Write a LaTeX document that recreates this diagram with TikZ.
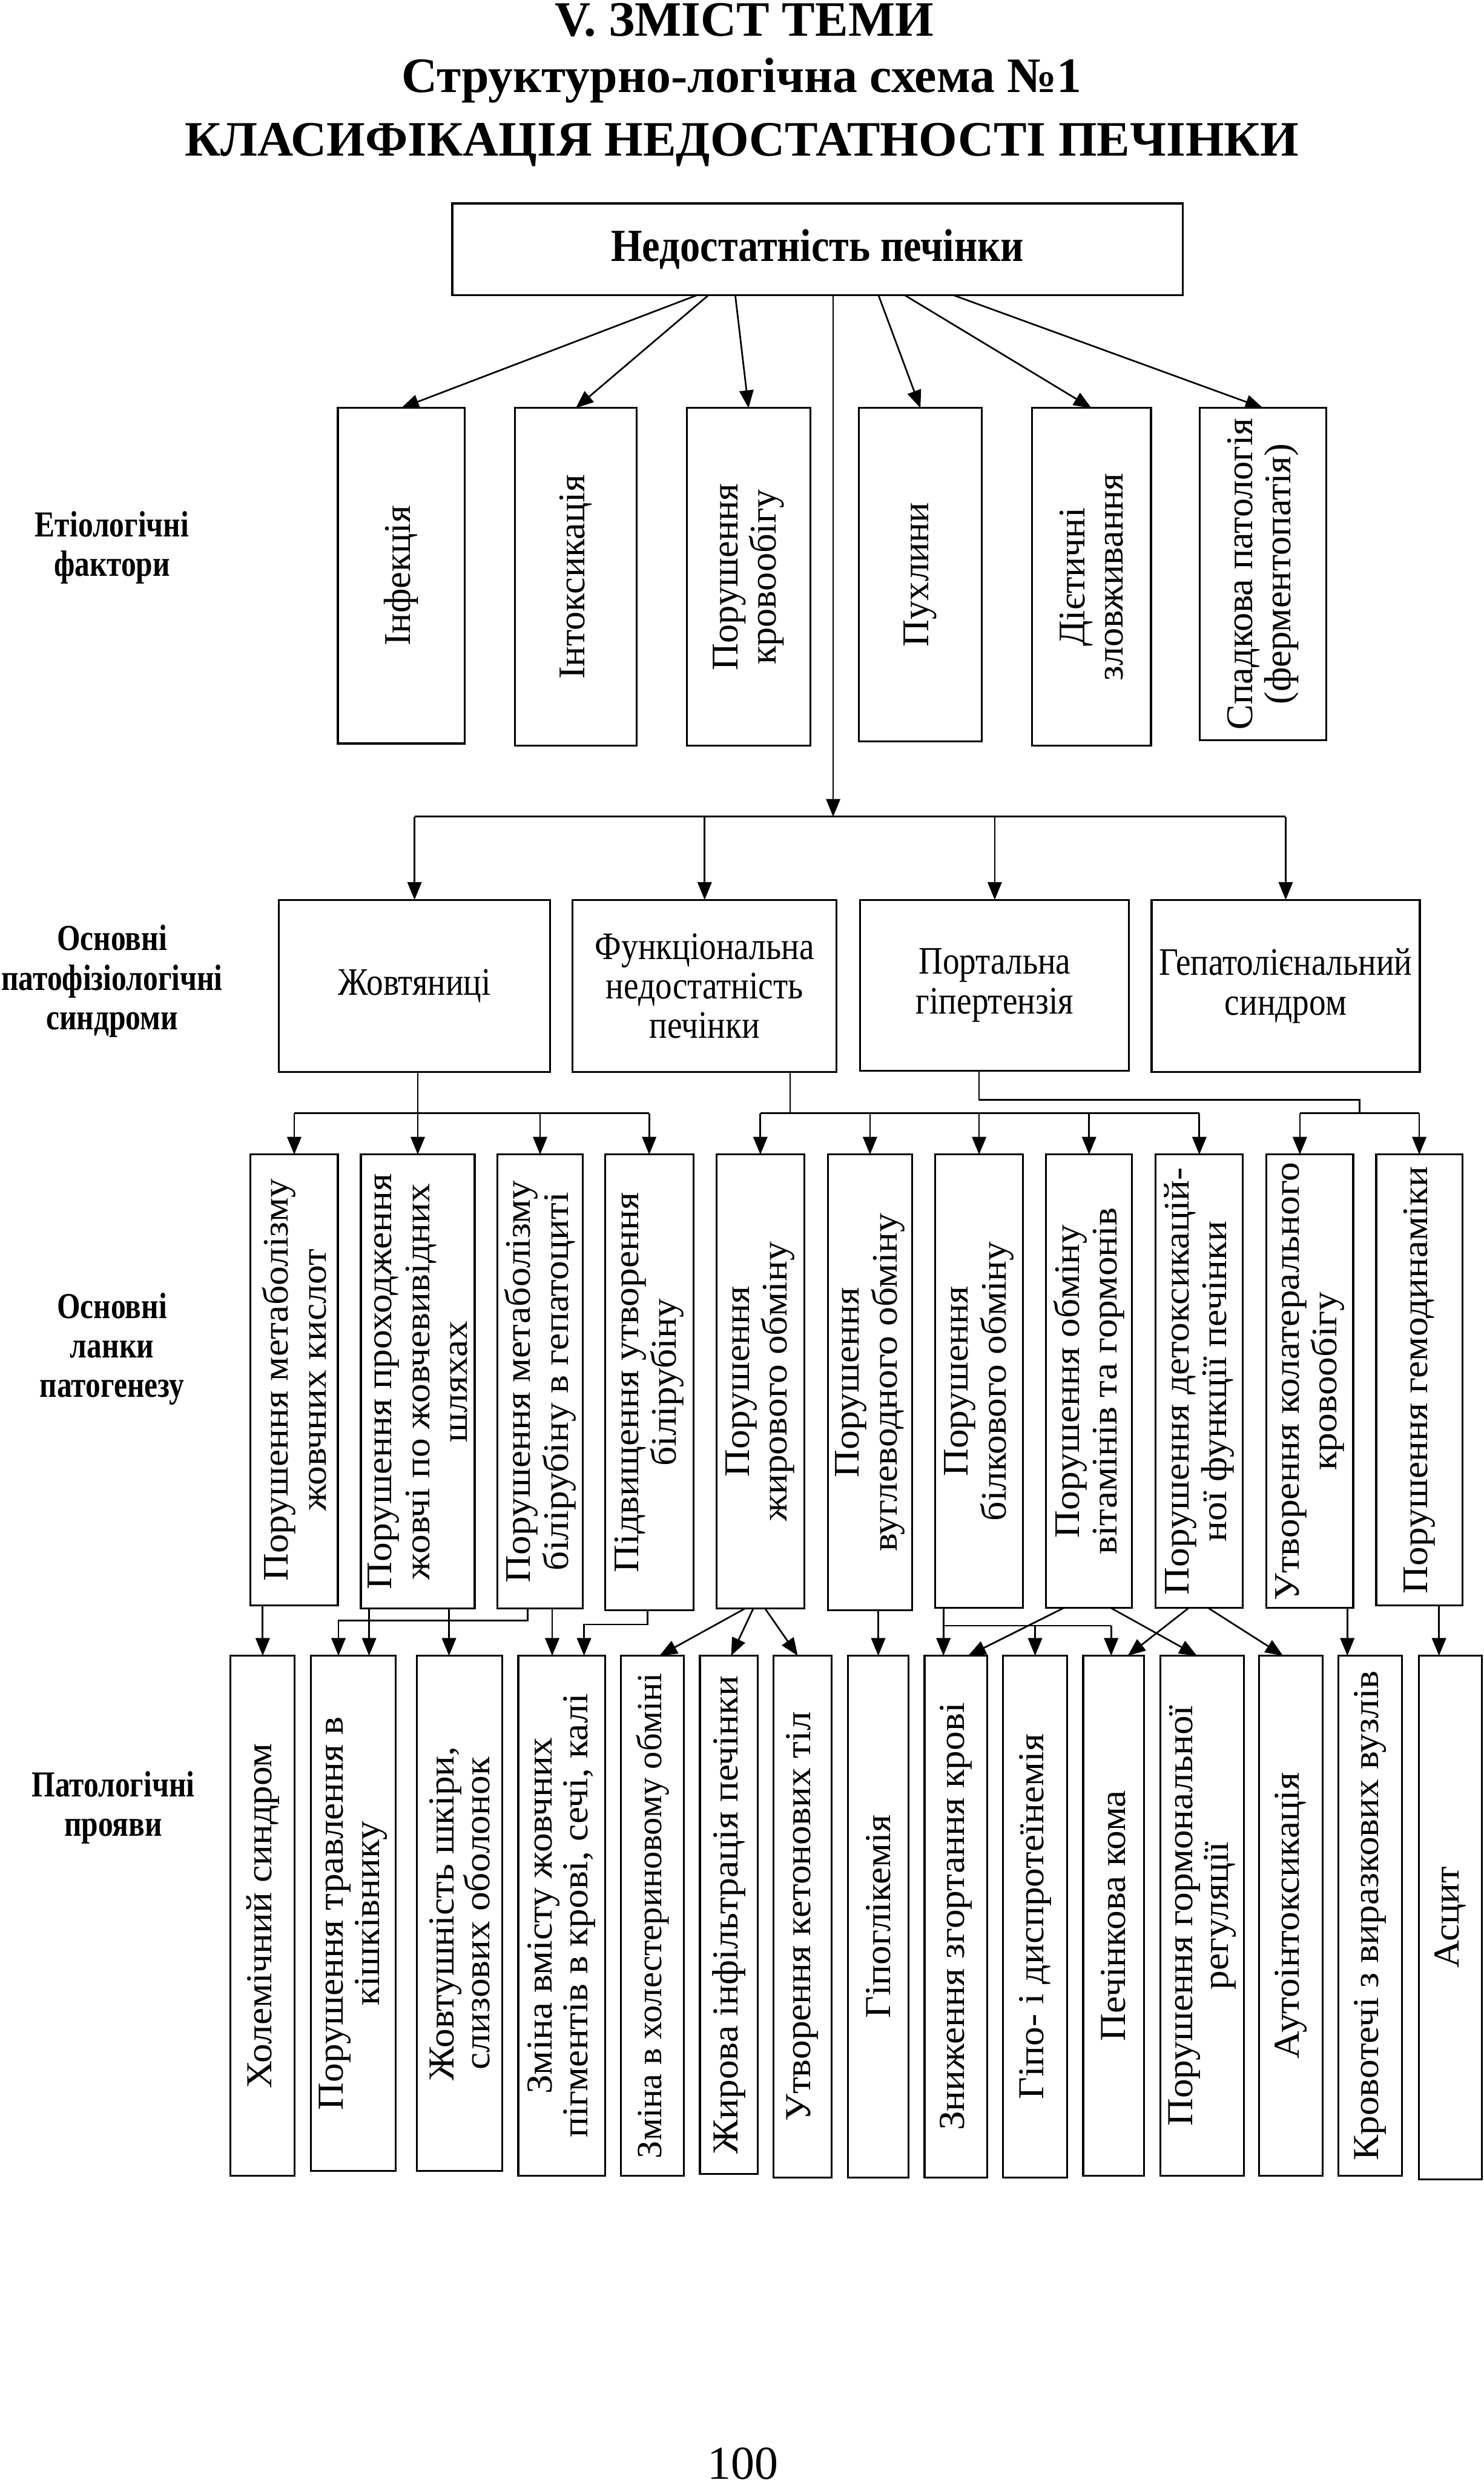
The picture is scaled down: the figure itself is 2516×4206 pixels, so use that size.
\documentclass[tikz,border=0pt]{standalone}
\usepackage{fontspec}
\setmainfont{Liberation Serif}
\newfontfamily\labfont{Liberation Serif Bold}[FakeStretch=0.82]
\newfontfamily\synfont{Liberation Serif}[FakeStretch=0.86]
\newfontfamily\topfont{Liberation Serif Bold}[FakeStretch=0.875]
\newfontfamily\titfont{Liberation Serif Bold}
\newfontfamily\patfont{Liberation Serif}[FakeStretch=1.07]
\newfontfamily\manfont{Liberation Serif}[FakeStretch=1.05]
\usetikzlibrary{arrows.meta,calc}
\newcommand{\bx}[5]{\node[box, minimum width={#4-#2}, minimum height={#5-#3}] (#1) at ({(#2+#4)/2},{(#3+#5)/2}) {};}
\begin{document}
\begin{tikzpicture}[x=1pt,y=-1pt,
  box/.style={draw, line width=3.2pt, inner sep=0pt, outer sep=0pt},
  con/.style={line width=2.8pt},
  arr/.style={con, -{Triangle[width=24pt,length=30pt]}},
  vtxt/.style={rotate=90, align=center, inner sep=0pt},
  etxt/.style={vtxt, font=\fontsize{64}{64}\selectfont},
  ptxt/.style={vtxt, font=\patfont\fontsize{61}{64}\selectfont},
  mtxt/.style={vtxt, font=\manfont\fontsize{62}{61}\selectfont},
  stxt/.style={align=center, inner sep=0pt, font=\synfont\fontsize{66}{67}\selectfont},
  ltxt/.style={align=center, inner sep=0pt, font=\labfont\fontsize{62}{67}\selectfont},
  ttxt/.style={anchor=base, inner sep=0pt, font=\titfont\fontsize{84}{90}\selectfont},
]
\fill[white] (0,0) rectangle (2516,4206);
\useasboundingbox (0,0) rectangle (2516,4206);

% ---------- title ----------
\node[ttxt] (t1) at (1262,61) {V. ЗМІСТ ТЕМИ};
\node[ttxt] (t2) at (1258,157) {Структурно-логічна схема №1};
\node[ttxt] (t3) at (1258,264) {КЛАСИФІКАЦІЯ НЕДОСТАТНОСТІ ПЕЧІНКИ};

% ---------- top box ----------
\bx{top}{767}{345}{2006}{501}
\node[inner sep=0pt, font=\topfont\fontsize{78}{80}\selectfont] at (top) {Недостатність печінки};

% ---------- left labels ----------
\node[ltxt] (l1) at (190,929) {Етіологічні\\фактори};
\node[ltxt] (l2) at (190,1664) {Основні\\патофізіологічні\\синдроми};
\node[ltxt] (l3) at (190,2288) {Основні\\ланки\\патогенезу};
\node[ltxt] (l4) at (192,3066) {Патологічні\\прояви};

% ---------- etiology ----------
\bx{e1}{573}{692}{788}{1261}
\bx{e2}{873}{692}{1080}{1265}
\bx{e3}{1165}{692}{1374}{1265}
\bx{e4}{1457}{692}{1665}{1257}
\bx{e5}{1750}{692}{1952}{1265}
\bx{e6}{2035}{692}{2249}{1255}
\node[etxt] at (e1) {Інфекція};
\node[etxt] at (e2) {Інтоксикація};
\node[etxt] at (e3) {Порушення\\кровообігу};
\node[etxt] at (e4) {Пухлини};
\node[etxt] at (e5) {Дієтичні\\зловживання};
\node[etxt] at (e6) {Спадкова патологія\\(ферментопатія)};

\draw[arr] ([xshift=414pt]top.south west) -- (e1.north);
\draw[arr] ([xshift=434pt]top.south west) -- (e2.north);
\draw[arr] ([xshift=480pt]top.south west) -- (e3.north);
\draw[arr] ([xshift=723pt]top.south west) -- (e4.north);
\draw[arr] ([xshift=768pt]top.south west) -- (e5.north);
\draw[arr] ([xshift=851pt]top.south west) -- (e6.north);

% ---------- syndromes ----------
\bx{s1}{473}{1526}{933}{1818}
\bx{s2}{971}{1526}{1419}{1818}
\bx{s3}{1459}{1526}{1915}{1816}
\bx{s4}{1953}{1526}{2408}{1818}
\node[stxt] at (s1) {Жовтяниці};
\node[stxt] at (s2) {Функціональна\\недостатність\\печінки};
\node[stxt] at (s3) {Портальна\\гіпертензія};
\node[stxt] at (s4) {Гепатолієнальний\\синдром};

\coordinate (hub) at (1413,1385);
\draw[arr] ([xshift=646pt]top.south west) -- (hub);
\draw[con] (s1.north |- hub) -- (s4.north |- hub);
\foreach \s in {s1,s2,s3,s4} \draw[arr] (\s.north |- hub) -- (\s.north);

% ---------- pathogenesis ----------
\bx{p1}{425}{1958}{573}{2723}
\bx{p2}{612}{1958}{805}{2728}
\bx{p3}{844}{1958}{988}{2728}
\bx{p4}{1026}{1958}{1176}{2731}
\bx{p5}{1215}{1958}{1364}{2728}
\bx{p6}{1404}{1958}{1547}{2731}
\bx{p7}{1586}{1958}{1735}{2727}
\bx{p8}{1774}{1958}{1920}{2727}
\bx{p9}{1960}{1958}{2108}{2727}
\bx{p10}{2148}{1958}{2295}{2727}
\bx{p11}{2334}{1958}{2480}{2723}
\node[ptxt] at (p1) {Порушення метаболізму\\жовчних кислот};
\node[ptxt] at (p2) {Порушення проходження\\жовчі по жовчевивідних\\шляхах};
\node[ptxt] at (p3) {Порушення метаболізму\\білірубіну в гепатоциті};
\node[ptxt] at (p4) {Підвищення утворення\\білірубіну};
\node[ptxt] at (p5) {Порушення\\жирового обміну};
\node[ptxt] at (p6) {Порушення\\вуглеводного обміну};
\node[ptxt] at (p7) {Порушення\\білкового обміну};
\node[ptxt] at (p8) {Порушення обміну\\вітамінів та гормонів};
\node[ptxt] at (p9) {Порушення детоксикацій-\\ної функції печінки};
\node[ptxt] at (p10) {Утворення колатерального\\кровообігу};
\node[ptxt] at (p11) {Порушення гемодинаміки};

\coordinate (ja) at (0,1888);
\coordinate (jc) at (0,1865);
% Жовтяниці
\draw[con] (p1.north |- ja) -- (p4.north |- ja);
\draw[arr] (s1.south -| p2.north) -- (p2.north);
\foreach \p in {p1,p3,p4} \draw[arr] (\p.north |- ja) -- (\p.north);
% Функціональна недостатність
\draw[con] ([xshift=145pt]s2.south) -- ([xshift=145pt]s2.south |- ja);
\draw[con] (p5.north |- ja) -- (p9.north |- ja);
\foreach \p in {p5,p6,p7,p8,p9} \draw[arr] (\p.north |- ja) -- (\p.north);
% Портальна гіпертензія
\coordinate (p10a) at ([xshift=-17pt]p10.north);
\coordinate (jd) at ($(p10a)!0.5!(p11.north)$);
\draw[con] (s3.south -| p7.north) |- (jd |- jc) -- (jd |- ja);
\draw[con] (p10a |- ja) -- (p11.north |- ja);
\draw[arr] (p10a |- ja) -- (p10a);
\draw[arr] (p11.north |- ja) -- (p11.north);

% ---------- manifestations ----------
\bx{m1}{391}{2808}{500}{3690}
\bx{m2}{527}{2808}{671}{3682}
\bx{m3}{707}{2808}{852}{3682}
\bx{m4}{879}{2808}{1026}{3690}
\bx{m5}{1053}{2808}{1160}{3690}
\bx{m6}{1187}{2808}{1285}{3687}
\bx{m7}{1312}{2808}{1410}{3693}
\bx{m8}{1438}{2808}{1541}{3693}
\bx{m9}{1568}{2808}{1674}{3693}
\bx{m10}{1701}{2808}{1810}{3693}
\bx{m11}{1837}{2808}{1940}{3690}
\bx{m12}{1968}{2808}{2110}{3690}
\bx{m13}{2135}{2808}{2243}{3690}
\bx{m14}{2270}{2808}{2378}{3690}
\bx{m15}{2406}{2808}{2513}{3696}
\node[mtxt] at (m1) {Холемічний синдром};
\node[mtxt] at (m2) {Порушення травлення в\\кішківнику};
\node[mtxt] at (m3) {Жовтушність шкіри,\\слизових оболонок};
\node[mtxt] at (m4) {Зміна вмісту жовчних\\пігментів в крові, сечі, калі};
\node[vtxt, font=\fontsize{60}{61}\selectfont] at (m5) {Зміна в холестериновому обміні};
\node[mtxt] at (m6) {Жирова інфільтрація печінки};
\node[mtxt] at (m7) {Утворення кетонових тіл};
\node[mtxt] at (m8) {Гіпоглікемія};
\node[mtxt] at (m9) {Зниження згортання крові};
\node[mtxt] at (m10) {Гіпо- і диспротеїнемія};
\node[mtxt] at (m11) {Печінкова кома};
\node[mtxt] at (m12) {Порушення гормональної\\регуляції};
\node[mtxt] at (m13) {Аутоінтоксикація};
\node[mtxt] at (m14) {Кровотечі з виразкових вузлів};
\node[mtxt] at (m15) {Асцит};

\coordinate (m2a) at ([xshift=27pt]m2.north);
\coordinate (m2b) at ([xshift=-25pt]m2.north);
\coordinate (m3a) at ([xshift=-18pt]m3.north);
\coordinate (m4a) at ([xshift=-16pt]m4.north);
\coordinate (m4b) at ([xshift=38pt]m4.north);
\coordinate (m5a) at ([xshift=12pt]m5.north);
\coordinate (m6a) at ([xshift=4pt]m6.north);
\coordinate (m7a) at ([xshift=-8pt]m7.north);
\coordinate (m9a) at ([xshift=-21pt]m9.north);
\coordinate (m9b) at ([xshift=21pt]m9.north);
\coordinate (m11a) at ([xshift=-4pt]m11.north);
\coordinate (m11b) at ([xshift=24pt]m11.north);
\coordinate (m12a) at ([xshift=-9pt]m12.north);
\coordinate (m13a) at ([xshift=-13pt]m13.north);
\coordinate (m14a) at ([xshift=-39pt]m14.north);
\coordinate (m15a) at ([xshift=-19pt]m15.north);
\coordinate (ey1) at (0,2748);
\coordinate (ey2) at (0,2755);
\coordinate (ey3) at (0,2757);

\draw[arr] (p1.south -| m1.north) -- (m1.north);
\draw[arr] (p2.south -| m2a) -- (m2a);
\draw[arr] (p2.south -| m3a) -- (m3a);
\draw[arr] ([xshift=-21pt]p3.south) |- (m2b |- ey1) -- (m2b);
\draw[arr] (p3.south -| m4a) -- (m4a);
\draw[arr] ([xshift=-3pt]p4.south) |- (m4b |- ey2) -- (m4b);
\draw[arr] ([xshift=-26pt]p5.south) -- (m5a);
\draw[arr] ([xshift=-12pt]p5.south) -- (m6a);
\draw[arr] ([xshift=8pt]p5.south) -- (m7a);
\draw[arr] (p6.south -| m8.north) -- (m8.north);
\draw[arr] (p7.south -| m9a) -- (m9a);
\draw[con] (m9a |- ey3) -- (m11a |- ey3);
\draw[arr] (m10.north |- ey3) -- (m10.north);
\draw[arr] (m11a |- ey3) -- (m11a);
\draw[arr] ([xshift=-43pt]p8.south) -- (m9b);
\draw[arr] ([xshift=37pt]p8.south) -- (m12a);
\draw[arr] ([xshift=-18pt]p9.south) -- (m11b);
\draw[arr] ([xshift=15pt]p9.south) -- (m13a);
\draw[arr] (p10.south -| m14a) -- (m14a);
\draw[arr] (p11.south -| m15a) -- (m15a);

% ---------- page number ----------
\node[anchor=base, inner sep=0pt, font=\fontsize{80}{90}\selectfont] (pg) at (1260,4204) {100};
\end{tikzpicture}
\end{document}
